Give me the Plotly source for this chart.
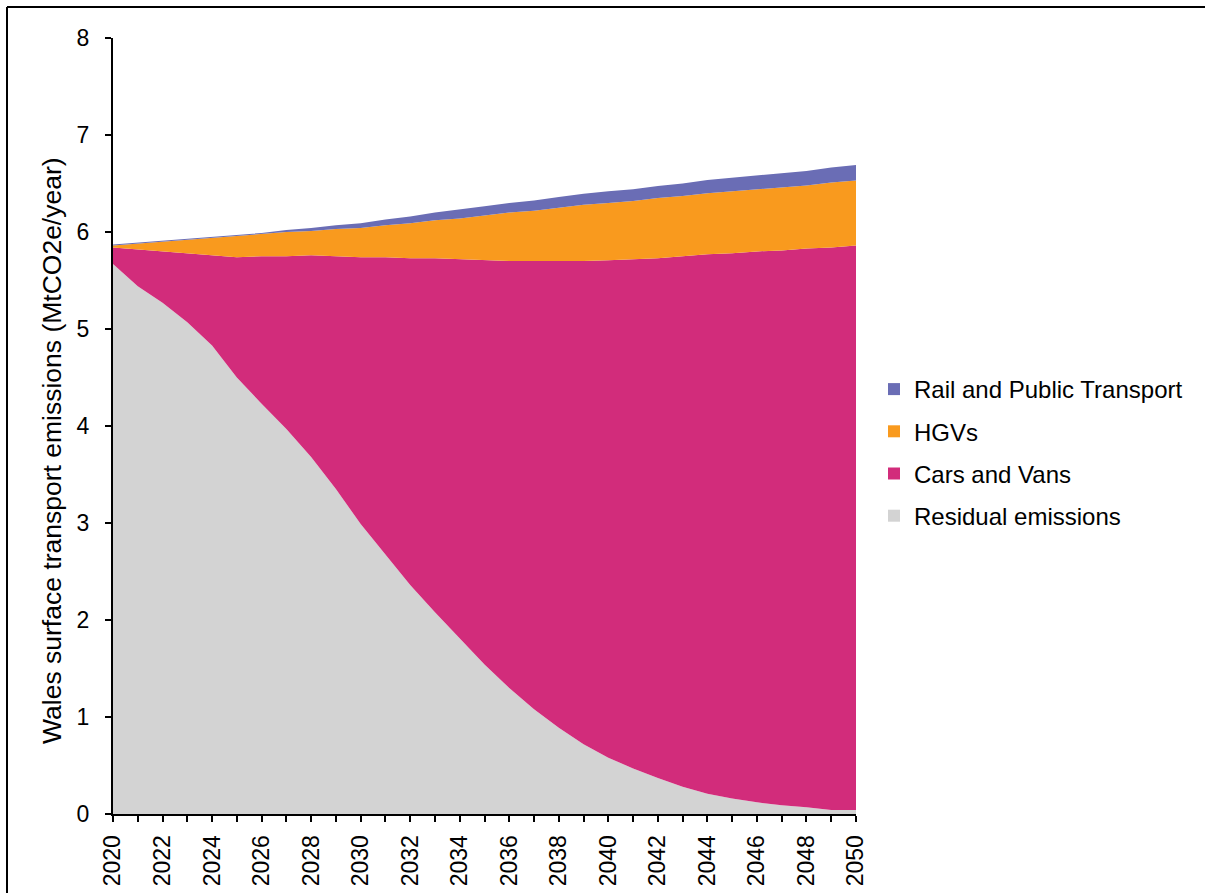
import plotly.graph_objects as go

# Years covered by the projection
years = list(range(2020, 2051))

# Stacked components, MtCO2e/year (bottom to top)
residual_emissions = [5.67, 5.44, 5.27, 5.07, 4.83, 4.50, 4.23, 3.97, 3.68, 3.35,
                      2.99, 2.67, 2.36, 2.08, 1.81, 1.54, 1.30, 1.08, 0.89, 0.72,
                      0.58, 0.47, 0.37, 0.28, 0.21, 0.16, 0.12, 0.09, 0.07, 0.04,
                      0.04]
cars_and_vans = [0.17, 0.38, 0.53, 0.71, 0.93, 1.24, 1.52, 1.78, 2.08, 2.40,
                 2.75, 3.07, 3.37, 3.65, 3.91, 4.17, 4.40, 4.62, 4.81, 4.98,
                 5.13, 5.25, 5.36, 5.47, 5.56, 5.62, 5.68, 5.72, 5.76, 5.80,
                 5.82]
hgvs = [0.02, 0.06, 0.10, 0.14, 0.18, 0.22, 0.23, 0.25, 0.25, 0.28,
        0.30, 0.33, 0.36, 0.39, 0.42, 0.46, 0.50, 0.52, 0.55, 0.58,
        0.59, 0.60, 0.62, 0.62, 0.63, 0.64, 0.64, 0.65, 0.65, 0.67,
        0.67]
rail_and_public_transport = [0.01, 0.01, 0.01, 0.01, 0.01, 0.01, 0.01, 0.02, 0.03, 0.04,
                             0.05, 0.06, 0.07, 0.08, 0.09, 0.095, 0.10, 0.105, 0.11, 0.115,
                             0.12, 0.12, 0.125, 0.13, 0.135, 0.14, 0.14, 0.145, 0.15, 0.155,
                             0.16]

series = [
    ("Residual emissions", residual_emissions, "#D3D3D3"),
    ("Cars and Vans", cars_and_vans, "#D22C7B"),
    ("HGVs", hgvs, "#F99A1E"),
    ("Rail and Public Transport", rail_and_public_transport, "#6A6DB5"),
]

FONT = "Liberation Sans, Arial, sans-serif"

fig = go.Figure()
n = len(series)
for i, (name, values, colour) in enumerate(series):
    fig.add_trace(go.Scatter(
        x=years, y=values, name=name, stackgroup="one",
        mode="lines", line=dict(width=0, color=colour),
        fillcolor=colour, showlegend=False, hoverinfo="x+y+name",
    ))
    # square swatch for the legend, listed top layer first
    fig.add_trace(go.Scatter(
        x=[None], y=[None], name=name, mode="markers", legendgroup=name,
        legendrank=n - i,
        marker=dict(symbol="square", size=12, color=colour, line=dict(width=0)),
        showlegend=True,
    ))

W, H = 1205, 893
L, R, T, B = 113, 349, 38, 79
pw, ph = W - L - R, H - T - B


def px_x(p):
    return (p - L) / pw


def px_y(p):
    return (H - B - p) / ph


fig.update_layout(
    width=W, height=H,
    margin=dict(l=L, r=R, t=T, b=B, pad=0, autoexpand=False),
    paper_bgcolor="white", plot_bgcolor="white",
    font=dict(family=FONT, size=23, color="black"),
    showlegend=True,
    legend=dict(
        x=px_x(874), y=px_y(367), xanchor="left", yanchor="top",
        traceorder="grouped", tracegroupgap=8,
        font=dict(family=FONT, size=24, color="black"),
        bgcolor="rgba(0,0,0,0)", itemwidth=30,
    ),
    xaxis=dict(
        range=[2020, 2050], tickmode="linear", tick0=2020, dtick=2,
        tickangle=-90, ticks="outside", ticklen=6, tickwidth=2, tickcolor="black",
        minor=dict(dtick=1, ticks="outside", ticklen=6, tickwidth=2, tickcolor="black"),
        showline=True, linecolor="black", linewidth=2, automargin=False,
        showgrid=False, zeroline=False, ticklabelstandoff=4,
        tickfont=dict(family=FONT, size=23, color="black"),
    ),
    yaxis=dict(
        range=[0, 8], tickmode="linear", tick0=0, dtick=1,
        ticks="outside", ticklen=6, tickwidth=2, tickcolor="black",
        showline=True, linecolor="black", linewidth=2, automargin=False,
        showgrid=False, zeroline=False, ticklabelstandoff=11,
        tickfont=dict(family=FONT, size=23, color="black"),
    ),
    annotations=[dict(
        text="Wales surface transport emissions (MtCO2e/year)",
        xref="paper", yref="paper", x=px_x(52), y=px_y(451),
        xanchor="center", yanchor="middle", textangle=-90, showarrow=False,
        font=dict(family=FONT, size=26.5, color="black"),
    )],
    shapes=[
        # outer frame (left and top edges)
        dict(type="line", xref="paper", yref="paper",
             x0=px_x(7), x1=px_x(7), y0=px_y(7), y1=px_y(H + 5),
             line=dict(color="black", width=2)),
        dict(type="line", xref="paper", yref="paper",
             x0=px_x(7), x1=px_x(W + 60), y0=px_y(7), y1=px_y(7),
             line=dict(color="black", width=2)),
    ],
)

fig.write_html("out.html")
